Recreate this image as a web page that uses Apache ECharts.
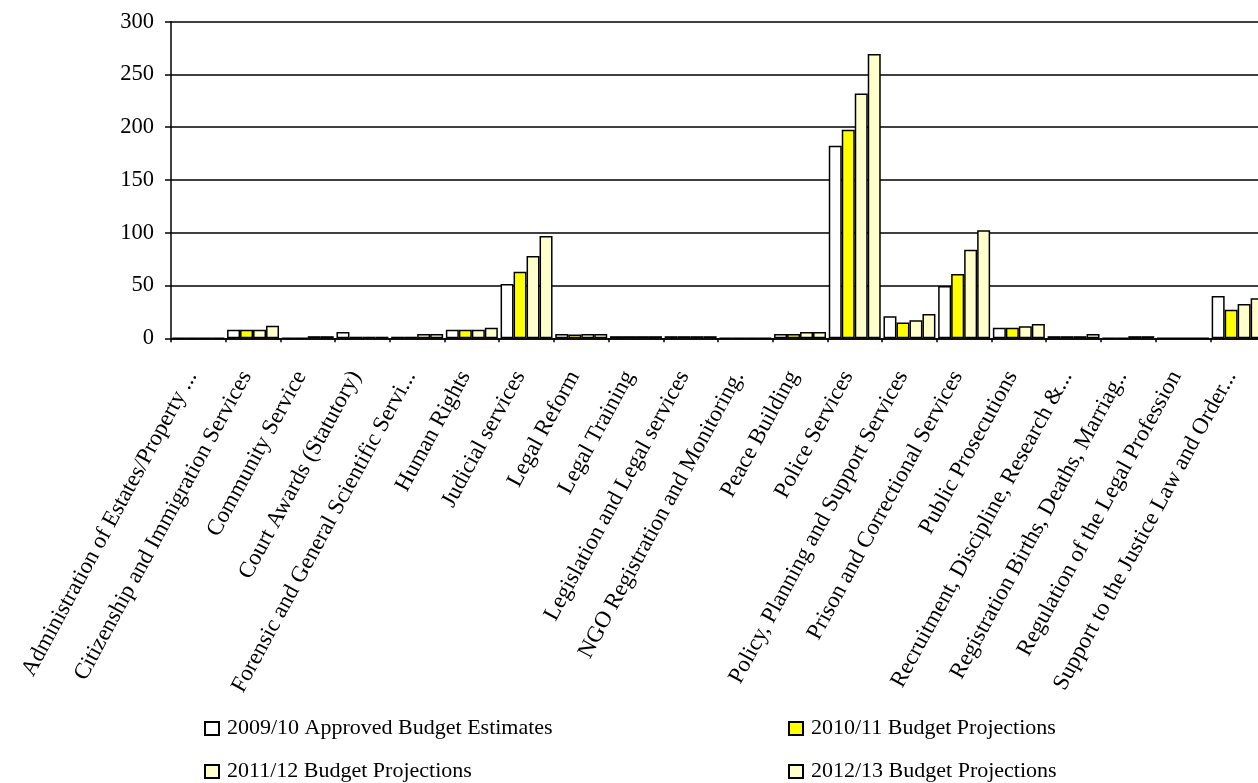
<!DOCTYPE html>
<html>
<head>
<meta charset="utf-8">
<script src="https://cdn.jsdelivr.net/npm/echarts@6/dist/echarts.min.js"></script>
<style>
html,body{margin:0;padding:0;background:#fff;}
#chart{width:1258px;height:783px;}
</style>
</head>
<body>
<div id="chart"></div>
<script>
const categories = [
  "Administration of Estates/Property ...",
  "Citizenship and Immigration Services",
  "Community Service",
  "Court Awards (Statutory)",
  "Forensic and General Scientific Servi...",
  "Human Rights",
  "Judicial services",
  "Legal Reform",
  "Legal Training",
  "Legislation and Legal services",
  "NGO Registration and Monitoring.",
  "Peace Building",
  "Police Services",
  "Policy, Planning and Support Services",
  "Prison and Correctional Services",
  "Public Prosecutions",
  "Recruitment, Discipline, Research &...",
  "Registration Births, Deaths, Marriag..",
  "Regulation of the Legal Profession",
  "Support to the Justice Law and Order..."
];
const seriesNames = [
  "2009/10 Approved Budget Estimates",
  "2010/11 Budget Projections",
  "2011/12 Budget Projections",
  "2012/13 Budget Projections"
];
const approved0910 = [0, 8, 0, 6, 1.5, 8, 51.5, 4, 2, 2, 0, 4, 182.5, 21, 49.5, 10, 2, 0, 0, 40];
const proj1011     = [0, 8, 0, 1.5, 1.5, 8, 63, 3.5, 2, 2, 0, 4, 197.5, 15, 61, 10, 2, 0, 0, 27];
const proj1112     = [0, 8, 2, 1.5, 4, 8, 78, 4, 2, 2, 0, 6, 232, 17, 84, 11.5, 2, 2, 0, 32.5];
const proj1213     = [0, 12, 2, 1.5, 4, 10, 97, 4, 2, 2, 0, 6, 269.5, 23, 102.5, 13.5, 4, 2, 0, 38];
const yTicks = { min: 0, max: 300, interval: 50 };

const seriesData = [approved0910, proj1011, proj1112, proj1213];
const colors = ["#FFFFFF", "#FFFF00", "#FFFFCC", "#FFFFCC"];
const FONT = "'Liberation Serif', 'Times New Roman', serif";

const chart = echarts.init(document.getElementById('chart'), null, {renderer: 'canvas'});

const legendPos = [
  {left: 204, top: 717.5},
  {left: 788, top: 717.5},
  {left: 204, top: 760.5},
  {left: 788, top: 760.5}
];

const option = {
  animation: false,
  backgroundColor: '#fff',
  grid: { left: 171, top: 21.7, right: -7, bottom: 444.7, containLabel: false, outerBoundsMode: 'none' },
  legend: seriesNames.map((n, i) => ({
    data: [n],
    left: legendPos[i].left,
    top: legendPos[i].top,
    icon: 'rect',
    itemWidth: 14,
    itemHeight: 13,
    padding: 0,
    selectedMode: false,
    textStyle: { fontFamily: FONT, fontSize: 22, color: '#000', lineHeight: 22, padding: [0,0,0,3] }
  })),
  xAxis: {
    type: 'category',
    data: categories,
    axisLine: { lineStyle: { color: '#000', width: 1.5 } },
    axisTick: { show: true, length: 4, lineStyle: { color: '#000', width: 1.5 } },
    axisLabel: {
      interval: 0,
      rotate: 61.5,
      margin: 22,
      padding: [0, 14, 0, 0],
      fontFamily: FONT,
      fontSize: 23,
      color: '#000'
    }
  },
  yAxis: {
    type: 'value',
    min: yTicks.min, max: yTicks.max, interval: yTicks.interval,
    axisLine: { show: true, lineStyle: { color: '#000', width: 1.5 } },
    axisTick: { show: true, length: 6, lineStyle: { color: '#000', width: 1.5 } },
    axisLabel: { margin: 17, fontFamily: FONT, fontSize: 22.5, color: '#000' },
    splitLine: { show: true, lineStyle: { color: '#000', width: 1.5 } }
  },
  series: seriesNames.map((n, i) => ({
    name: n,
    type: 'bar',
    data: seriesData[i],
    barGap: '0%',
    barCategoryGap: '5%',
    itemStyle: { color: colors[i], borderColor: '#000', borderWidth: 1.5 }
  }))
};
chart.setOption(option);
</script>
</body>
</html>
